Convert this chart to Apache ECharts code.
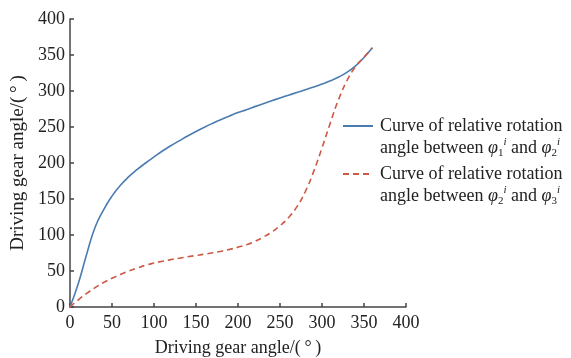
<!DOCTYPE html>
<html>
<head>
<meta charset="utf-8">
<script src="https://cdn.jsdelivr.net/npm/echarts@6/dist/echarts.min.js"></script>
<style>html,body{margin:0;padding:0;background:#fff}#c{width:571px;height:358px}</style>
</head>
<body>
<div id="c"></div>
<script>
// Driving gear angle (x) samples
const xBlue = [0,10,20,30,40,50,60,70,80,90,100,110,120,130,140,150,160,170,180,190,200,210,220,230,240,250,260,270,280,290,300,310,320,330,340,350,360];
const yBlue = [0,33,74,111,135,154,169,181,191,200,208.5,216.7,224,230.8,237.5,243.8,249.7,255.2,260.4,265.3,270,274.1,278.3,282.4,286.4,290.3,294.1,297.9,301.7,305.6,309.7,314.2,319.5,326.2,335,346.5,360];
const xRed = [0,10,20,30,40,50,60,70,80,90,100,110,120,130,140,150,160,170,180,190,200,210,220,230,240,250,260,270,280,290,300,310,320,330,340,350,360];
const yRed = [0,10,19,27,34,40,45,50,54,58,61,63.5,65.8,67.8,69.7,71.5,73.3,75.3,77.5,80,83,86.5,91,97,104,113,124,139,160,188,221,256,289,315,334,347,360];
const xTicks = [0,50,100,150,200,250,300,350,400];
const yTicks = [0,50,100,150,200,250,300,350,400];
const seriesNames = ['Curve of relative rotation angle between φ1 and φ2', 'Curve of relative rotation angle between φ2 and φ3'];
const legendIdx = [['1','2'],['2','3']];

const font = 'Liberation Serif';
const chart = echarts.init(document.getElementById('c'), null, {renderer:'canvas'});
const pairs = (xs, ys) => xs.map((x,i)=>[x, ys[i]]);
const axisCommon = {
  type:'value', min:xTicks[0], max:xTicks[xTicks.length-1], interval:50,
  axisLine:{show:true, lineStyle:{color:'#444', width:1.5}},
  axisTick:{show:true, inside:true, length:4, lineStyle:{color:'#444', width:1.5}},
  splitLine:{show:false},
  axisLabel:{fontFamily:font, fontSize:18, color:'#222'},
  nameLocation:'middle',
  nameTextStyle:{fontFamily:font, fontSize:18, color:'#222'}
};
chart.setOption({
  animation:false,
  grid:{left:70, top:19, right:165, bottom:51, containLabel:false, outerBoundsMode:'none'},
  xAxis: Object.assign({}, axisCommon, {name:'Driving gear angle/(\u2009°\u2009)', nameGap:32, axisLabel:Object.assign({}, axisCommon.axisLabel, {margin:7})}),
  yAxis: Object.assign({}, axisCommon, {min:yTicks[0], max:yTicks[yTicks.length-1], name:'Driving gear angle/(\u2009°\u2009)', nameGap:40,
    nameTextStyle:{fontFamily:font, fontSize:19, color:'#222'},
    axisLabel:Object.assign({}, axisCommon.axisLabel, {margin:5})}),
  legend:{
    orient:'vertical', left:342, top:93, padding:0, itemWidth:30, itemHeight:14, itemGap:-18,
    data: seriesNames,
    itemStyle:{opacity:0},
    formatter: function(name){
      const k = seriesNames.indexOf(name);
      const a = legendIdx[k][0], b = legendIdx[k][1];
      return '{t|Curve of relative rotation}\n{t|angle between }{p|φ}{sb|' + a + '}{sp|i}{t| and }{p|φ}{sb|' + b + '}{sp|i}';
    },
    textStyle:{
      fontFamily:font, fontSize:18, color:'#222', lineHeight:22, padding:[22,0,0,2],
      rich:{
        t:{fontFamily:font, fontSize:18, color:'#222', lineHeight:22},
        p:{fontFamily:font, fontSize:18, color:'#222', fontStyle:'italic', lineHeight:22},
        sb:{fontFamily:font, fontSize:11, color:'#222', verticalAlign:'bottom', lineHeight:17},
        sp:{fontFamily:font, fontSize:11, color:'#222', fontStyle:'italic', verticalAlign:'top', lineHeight:14}
      }
    }
  },
  series:[
    {name:seriesNames[0], type:'line', data:pairs(xBlue,yBlue), smooth:0.5, symbol:'none',
     lineStyle:{color:'#4a7cb0', width:1.6}, itemStyle:{color:'#4a7cb0'}},
    {name:seriesNames[1], type:'line', data:pairs(xRed,yRed), smooth:0.5, symbol:'none',
     lineStyle:{color:'#cc5a45', width:1.6, type:[6,4]}, itemStyle:{color:'#cc5a45'}}
  ]
});
</script>
</body>
</html>
